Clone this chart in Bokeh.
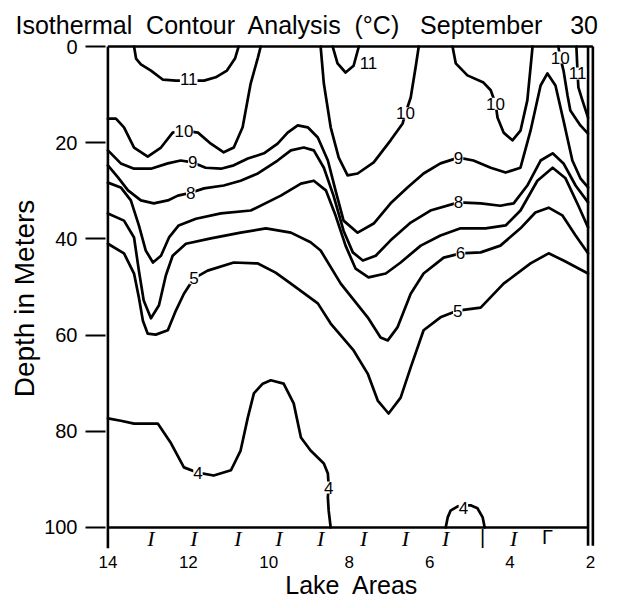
from bokeh.plotting import figure
from bokeh.models import Range1d, FixedTicker, ColumnDataSource, LabelSet, Title
from bokeh.core.properties import value
from bokeh.embed import file_html
from bokeh.resources import INLINE

# ---------------- data (x = lake area, y = depth in metres) ----------------
area_ticks = [14, 12, 10, 8, 6, 4, 2]
depth_ticks = [0, 20, 40, 60, 80, 100]

c11a_x = [13.35, 13.30, 13.18, 12.93, 12.63, 12.31, 11.99, 11.61, 11.32, 11.04, 10.84, 10.75]
c11a_y = [0, 2.5, 3.7, 5.0, 6.9, 7.1, 7.1, 7.1, 6.4, 5.0, 2.5, 0]

c10a_x = [14.0, 13.80, 13.60, 13.35, 13.01, 12.68, 12.39, 12.11, 11.76, 11.44, 11.12, 10.87, 10.65, 10.45, 10.27, 10.20]
c10a_y = [15.0, 15.0, 16.8, 21.0, 22.9, 21.0, 17.9, 17.5, 17.9, 20.2, 22.0, 21.0, 16.8, 7.7, 2.3, 0]

c10b_x = [8.71, 8.63, 8.46, 8.26, 8.04, 7.79, 7.39, 6.97, 6.67, 6.60, 6.47, 6.35, 6.27]
c10b_y = [0, 7.7, 16.8, 23.1, 26.8, 26.4, 24.1, 19.5, 16.0, 13.9, 10.6, 4.4, 0]

c11b_x = [8.41, 8.29, 8.09, 7.89, 7.76]
c11b_y = [0, 3.5, 5.4, 4.0, 0]

c10c_x = [5.43, 5.35, 5.06, 4.66, 4.48, 4.36, 4.31, 4.16, 3.94, 3.74, 3.57, 3.49, 3.44]
c10c_y = [0, 3.5, 6.0, 7.5, 9.1, 11.9, 14.8, 17.9, 19.5, 17.5, 11.2, 4.4, 0]

c10d_x = [2.80, 2.75, 2.67, 2.57, 2.50, 2.25, 2.06]
c10d_y = [0, 2.3, 5.0, 10.2, 13.3, 16.4, 18.1]

c11c_x = [2.35, 2.32, 2.30, 2.20, 2.06]
c11c_y = [0, 5.6, 8.5, 11.2, 14.8]

c9_x = [14.0, 13.68, 13.35, 12.93, 12.51, 12.19, 11.89, 11.57, 11.19, 10.87, 10.52, 10.12, 9.78, 9.53,
        9.28, 9.03, 8.78, 8.53, 8.34, 8.14, 7.79, 7.39, 6.97, 6.55, 6.15, 5.73, 5.28, 4.91, 4.48, 4.11,
        3.74, 3.49, 3.24, 3.07, 2.87, 2.67, 2.45, 2.25, 2.06]
c9_y = [21.6, 24.3, 25.4, 25.4, 24.3, 23.7, 24.1, 25.2, 25.4, 24.7, 23.3, 22.2, 20.2, 17.9,
        16.4, 16.8, 18.9, 23.7, 29.9, 36.2, 38.7, 36.8, 32.6, 29.3, 26.4, 24.3, 23.1, 23.7, 25.2, 26.2,
        25.2, 17.5, 8.1, 5.6, 8.1, 15.4, 23.7, 27.4, 29.3]

c8_x = [14.0, 13.75, 13.50, 13.18, 12.86, 12.51, 12.26, 11.94, 11.61, 11.12, 10.70, 10.27, 9.78, 9.45,
        9.13, 8.88, 8.63, 8.39, 8.14, 7.91, 7.66, 7.34, 6.97, 6.47, 5.98, 5.28, 4.73, 4.24, 3.91, 3.57,
        3.24, 2.94, 2.67, 2.37, 2.06]
c8_y = [24.7, 27.2, 29.9, 32.0, 32.6, 32.0, 31.0, 30.4, 29.5, 28.9, 27.9, 26.4, 23.7, 21.6,
        21.0, 21.6, 25.2, 31.0, 38.3, 42.8, 44.5, 43.5, 40.3, 36.6, 34.1, 32.4, 32.6, 33.1, 32.6, 28.9,
        23.7, 22.2, 24.3, 28.9, 32.4]

c7_x = [14.0, 13.68, 13.43, 13.23, 13.06, 12.88, 12.68, 12.48, 12.24, 11.81, 11.19, 10.45, 9.70, 9.20,
        8.88, 8.58, 8.34, 8.09, 7.84, 7.52, 7.09, 6.72, 6.22, 5.73, 5.23, 4.61, 4.11, 3.74, 3.32, 2.94,
        2.62, 2.30, 2.06]
c7_y = [28.3, 29.3, 32.0, 37.2, 42.4, 44.9, 43.5, 39.7, 37.2, 35.8, 34.7, 34.1, 31.0, 28.5,
        27.9, 29.9, 35.1, 41.4, 46.2, 48.0, 47.2, 44.9, 41.4, 39.3, 37.8, 37.8, 37.2, 34.1, 27.9, 25.2,
        27.4, 33.1, 37.6]

c6_x = [14.0, 13.60, 13.35, 13.23, 13.11, 12.93, 12.73, 12.56, 12.39, 12.06, 11.44, 10.70, 10.07, 9.45,
        8.96, 8.71, 8.21, 7.54, 7.22, 7.04, 6.80, 6.47, 6.15, 5.65, 5.23, 4.73, 4.24, 3.74, 3.37, 3.04,
        2.70, 2.37, 2.06]
c6_y = [34.7, 36.2, 39.7, 46.6, 52.8, 56.5, 53.8, 47.6, 43.5, 41.0, 39.9, 38.7, 37.8, 38.7,
        40.7, 42.4, 49.3, 56.3, 60.5, 61.1, 58.4, 51.4, 47.2, 43.9, 43.0, 42.8, 41.4, 37.8, 34.5, 33.5,
        35.1, 39.3, 43.0]

c5_x = [14.0, 13.60, 13.35, 13.23, 13.13, 13.01, 12.81, 12.51, 12.31, 12.11, 11.86, 11.52, 10.87, 10.27,
        9.83, 9.45, 8.78, 8.46, 7.89, 7.54, 7.29, 7.02, 6.72, 6.47, 6.15, 5.73, 5.30, 4.73, 4.16, 3.49,
        3.04, 2.67, 2.06]
c5_y = [41.0, 43.0, 47.2, 52.2, 57.0, 59.7, 59.9, 59.0, 54.9, 51.4, 48.2, 46.6, 44.9, 45.1,
        47.0, 49.3, 53.4, 57.6, 63.2, 68.0, 73.6, 76.3, 73.0, 66.7, 59.0, 56.3, 54.9, 54.3, 49.3, 45.1,
        43.0, 44.5, 47.2]

c4a_x = [14.0, 13.68, 13.35, 12.76, 12.43, 12.11, 11.76, 11.37, 10.94, 10.70, 10.52, 10.37, 10.15, 9.95,
         9.63, 9.38, 9.20, 8.96, 8.63, 8.53, 8.51, 8.53, 8.51, 8.46]
c4a_y = [77.3, 77.8, 78.4, 78.4, 82.5, 87.5, 88.6, 89.2, 88.1, 84.0, 77.1, 72.1, 70.1, 69.4,
         70.1, 74.2, 81.3, 84.0, 86.7, 88.8, 91.3, 93.8, 96.5, 100]

c4b_x = [5.60, 5.55, 5.48, 5.30, 5.16, 4.98, 4.81, 4.68, 4.63]
c4b_y = [100, 97.9, 96.5, 95.6, 95.4, 95.4, 96.0, 97.9, 100]

# contour labels
label_x = [11.99, 7.52, 2.32, 12.11, 6.60, 4.36, 2.75, 11.89, 5.28, 11.94, 5.28, 5.23, 11.86, 5.30, 11.76, 8.51, 5.16]
label_y = [6.7, 3.5, 5.6, 17.5, 13.9, 11.9, 2.3, 24.1, 23.1, 30.4, 32.4, 43.0, 48.2, 54.9, 88.6, 91.7, 96.0]
label_t = ["11", "11", "11", "10", "10", "10", "10", "9", "9", "8", "8", "6", "5", "5", "4", "4", "4"]

# station marks along the bottom
station_x = [12.93, 11.86, 10.77, 9.75, 8.71, 7.64, 6.60, 5.60, 3.91]
mark_x = [4.68, 3.07]
mark_t = ["|", "Γ"]

# ---------------- figure ----------------
FONT = "Liberation Sans"
NB = "\u00a0"
p = figure(width=637, height=608, x_range=Range1d(14.06, 1.8), y_range=Range1d(105.2, -0.42),
           output_backend="svg", toolbar_location=None,
           min_border_left=105, min_border_right=39, min_border_top=44, min_border_bottom=56)
p.grid.visible = False
p.background_fill_color = "white"
p.border_fill_color = "white"
p.outline_line_color = None

ya = p.yaxis[0]
ya.ticker = FixedTicker(ticks=depth_ticks)
ya.axis_line_color = None
ya.major_tick_out = 20
ya.major_tick_in = 0
ya.minor_tick_out = 0
ya.minor_tick_in = 0
ya.major_tick_line_width = 2.2
ya.major_label_standoff = 8
ya.major_label_text_font = FONT
ya.major_label_text_font_size = "20px"
ya.major_label_text_color = "black"

xa = p.xaxis[0]
xa.ticker = FixedTicker(ticks=area_ticks)
xa.axis_line_color = None
xa.major_tick_out = 0
xa.major_tick_in = 0
xa.minor_tick_out = 0
xa.minor_tick_in = 0
xa.major_label_standoff = 3
xa.major_label_text_font = FONT
xa.major_label_text_font_size = "17px"
xa.major_label_text_color = "black"
xa.axis_label = "Lake" + NB + " Areas"
xa.axis_label_text_font = FONT
xa.axis_label_text_font_size = "25px"
xa.axis_label_text_font_style = "normal"
xa.axis_label_standoff = 0
xa.axis_label_text_color = "black"

# frame box built from the axis extents
x_left, x_right = max(area_ticks), min(area_ticks)
d_top, d_bot = min(depth_ticks), max(depth_ticks)
p.segment(x0=[x_left, x_left, x_left, x_right + 0.06, x_right - 0.06],
          y0=[d_top, d_bot, d_top, d_top, d_top],
          x1=[x_right - 0.06, x_right + 0.06, x_left, x_right + 0.06, x_right - 0.06],
          y1=[d_top, d_bot, d_bot + 4.3, d_bot + 3.8, d_bot + 3.8],
          line_color="black", line_width=2.6)

xs = [c11a_x, c10a_x, c10b_x, c11b_x, c10c_x, c10d_x, c11c_x, c9_x, c8_x, c7_x, c6_x, c5_x, c4a_x, c4b_x]
ys = [c11a_y, c10a_y, c10b_y, c11b_y, c10c_y, c10d_y, c11c_y, c9_y, c8_y, c7_y, c6_y, c5_y, c4a_y, c4b_y]
p.multi_line(xs, ys, line_color="black", line_width=2.7, line_join="round", line_cap="round")

lab_src = ColumnDataSource(dict(x=label_x, y=label_y, t=label_t))
p.add_layout(LabelSet(x="x", y="y", text="t", source=lab_src, text_align="center",
                      text_baseline="middle", text_font=value(FONT), text_font_size="17px",
                      text_color="black", background_fill_color="white"))

st_src = ColumnDataSource(dict(x=station_x, y=[d_bot + 2.2] * len(station_x), t=["I"] * len(station_x)))
p.add_layout(LabelSet(x="x", y="y", text="t", source=st_src, text_align="center",
                      text_baseline="middle", text_font=value("Liberation Serif"),
                      text_font_style="italic", text_font_size="22px", text_color="black"))
mk_src = ColumnDataSource(dict(x=mark_x, y=[d_bot + 2.0] * len(mark_x), t=mark_t))
p.add_layout(LabelSet(x="x", y="y", text="t", source=mk_src, text_align="center",
                      text_baseline="middle", text_font=value(FONT), text_font_size="20px",
                      text_color="black"))

title_text = ("Isothermal" + NB + " Contour" + NB + " Analysis" + NB + " (°C)" + NB + NB + " September"
              + NB + NB + NB + " 30")
title = Title(text=title_text, align="left", offset=-90,
              text_font=FONT, text_font_size="25px", text_font_style="normal", text_color="black",
              standoff=11)
p.add_layout(title, "above")

ylab = Title(text="Depth in Meters", align="center", text_font=FONT,
             text_font_size="28px", text_font_style="normal", text_color="black", standoff=4)
p.add_layout(ylab, "left")

open("out.html", "w").write(file_html(p, INLINE))
